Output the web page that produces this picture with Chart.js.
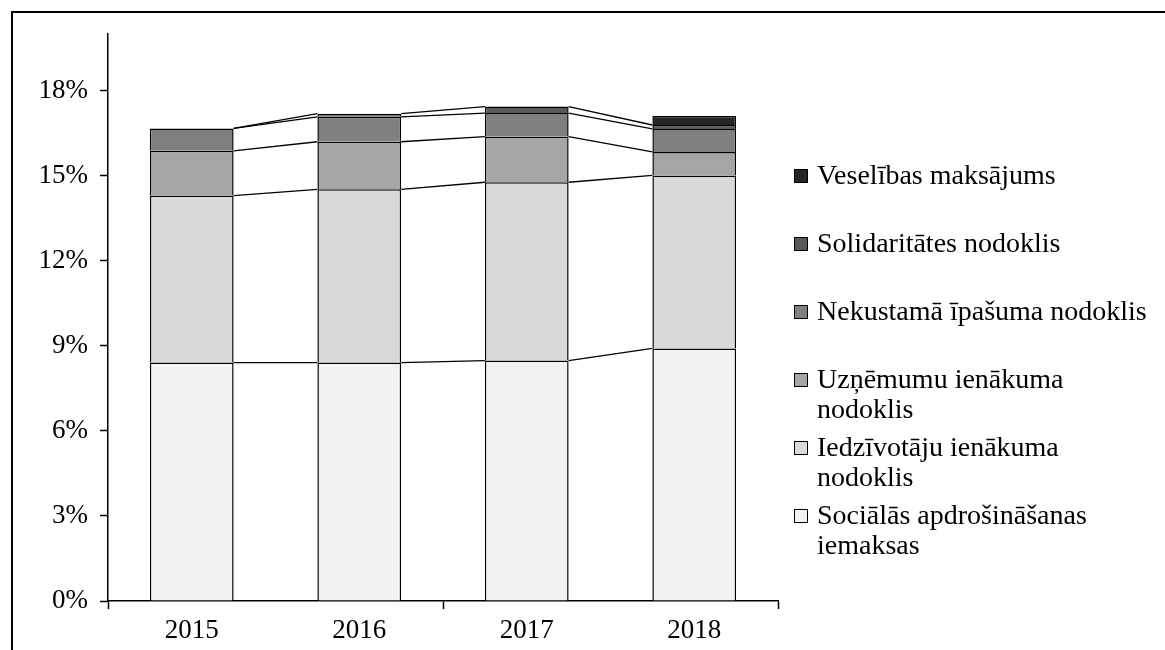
<!DOCTYPE html>
<html>
<head>
<meta charset="utf-8">
<script src="https://cdn.jsdelivr.net/npm/chart.js@4.4.1/dist/chart.umd.min.js"></script>
<style>
  html, body { margin: 0; padding: 0; background: #fff; overflow: hidden; }
  #wrap { position: relative; width: 1165px; height: 650px; overflow: hidden; }
  #graphic { position: absolute; left: 0; top: 0; }
  #frame { position: absolute; left: 11px; top: 11px; width: 1200px; height: 700px; border: 2px solid #000; }
  #legend { position: absolute; left: 794px; top: 160px; font-family: "Liberation Serif", "Times New Roman", serif; font-size: 28px; line-height: 30px; color: #000; }
  .item { position: relative; height: 68px; padding-left: 23px; white-space: nowrap; }
  .box { position: absolute; left: 0; top: 9px; width: 12px; height: 12px; border: 1px solid #000; }
</style>
</head>
<body>
<div id="wrap">
  <canvas id="graphic" width="1165" height="650"></canvas>
  <div id="frame"></div>
  <div id="legend"></div>
</div>
<script>
var years = ['2015', '2016', '2017', '2018'];

var socialas = [8.41, 8.41, 8.48, 8.91];
var iedzivotaju = [5.89, 6.11, 6.29, 6.10];
var uznemumu = [1.58, 1.68, 1.61, 0.83];
var nekustama = [0.79, 0.88, 0.83, 0.81];
var solidaritates = [0, 0.11, 0.23, 0.14];
var veselibas = [null, null, null, 0.32];

var seriesNames = [
    ['Sociālās apdrošināšanas', 'iemaksas'],
    ['Iedzīvotāju ienākuma', 'nodoklis'],
    ['Uzņēmumu ienākuma', 'nodoklis'],
    ['Nekustamā īpašuma nodoklis'],
    ['Solidaritātes nodoklis'],
    ['Veselības maksājums']
];
var seriesColors = ['#f2f2f2', '#d9d9d9', '#a6a6a6', '#7f7f7f', '#595959', '#262626'];
var seriesValues = [socialas, iedzivotaju, uznemumu, nekustama, solidaritates, veselibas];

var fontFamily = '"Liberation Serif", "Times New Roman", serif';

var datasets = seriesValues.map(function (vals, i) {
    return {
        label: seriesNames[i].join(' '),
        data: vals,
        backgroundColor: seriesColors[i],
        borderColor: '#000',
        borderWidth: 1.5,
        borderSkipped: 'start',
        barPercentage: 0.5,
        categoryPercentage: 1
    };
});

// excel style series lines between the stacked columns
var seriesLines = {
    id: 'seriesLines',
    afterDatasetsDraw: function (chart) {
        var ctx = chart.ctx;
        ctx.save();
        ctx.strokeStyle = '#000';
        ctx.lineWidth = 1.3;
        chart.data.datasets.forEach(function (ds, i) {
            var meta = chart.getDatasetMeta(i);
            for (var j = 0; j < meta.data.length - 1; j++) {
                if (ds.data[j] === null || ds.data[j + 1] === null) continue;
                var a = meta.data[j], b = meta.data[j + 1];
                ctx.beginPath();
                ctx.moveTo(a.x + a.width / 2, a.y);
                ctx.lineTo(b.x - b.width / 2, b.y);
                ctx.stroke();
            }
        });
        ctx.restore();
    }
};

var ctx = document.getElementById('graphic').getContext('2d');

var graphic = new Chart(ctx, {
    type: 'bar',
    data: { labels: years, datasets: datasets },
    options: {
        responsive: false,
        animation: false,
        layout: { padding: { left: 0, top: 34, right: 387, bottom: 0 } },
        plugins: { legend: { display: false }, tooltip: { enabled: false } },
        scales: {
            x: {
                stacked: true,
                grid: {
                    offset: true,
                    drawOnChartArea: false,
                    tickLength: 8,
                    tickWidth: 1.5,
                    tickColor: function (c) {
                        return (c.index === undefined || c.index % 2 === 0) ? '#000' : 'rgba(0,0,0,0)';
                    }
                },
                border: { display: true, color: '#000', width: 1.5 },
                ticks: {
                    color: '#000',
                    font: { family: fontFamily, size: 27 },
                    padding: 6,
                    maxRotation: 0
                },
                afterFit: function (scale) { scale.height = 49; }
            },
            y: {
                stacked: true,
                min: 0,
                max: 20,
                grid: {
                    drawOnChartArea: false,
                    tickLength: 8,
                    tickWidth: 1.5,
                    tickColor: '#000'
                },
                border: { display: true, color: '#000', width: 1.5 },
                ticks: {
                    stepSize: 3,
                    color: '#000',
                    font: { family: fontFamily, size: 27 },
                    padding: 12,
                    callback: function (v) { return v + '%'; }
                },
                afterBuildTicks: function (scale) {
                    scale.ticks = scale.ticks.filter(function (t) { return t.value % 3 === 0; });
                },
                afterFit: function (scale) { scale.width = 108; }
            }
        }
    },
    plugins: [seriesLines]
});

// legend, reversed like the original
var legend = document.getElementById('legend');
for (var i = seriesNames.length - 1; i >= 0; i--) {
    var item = document.createElement('div');
    item.className = 'item';
    var box = document.createElement('span');
    box.className = 'box';
    box.style.background = seriesColors[i];
    item.appendChild(box);
    seriesNames[i].forEach(function (line, k) {
        if (k > 0) item.appendChild(document.createElement('br'));
        item.appendChild(document.createTextNode(line));
    });
    legend.appendChild(item);
}
</script>
</body>
</html>
